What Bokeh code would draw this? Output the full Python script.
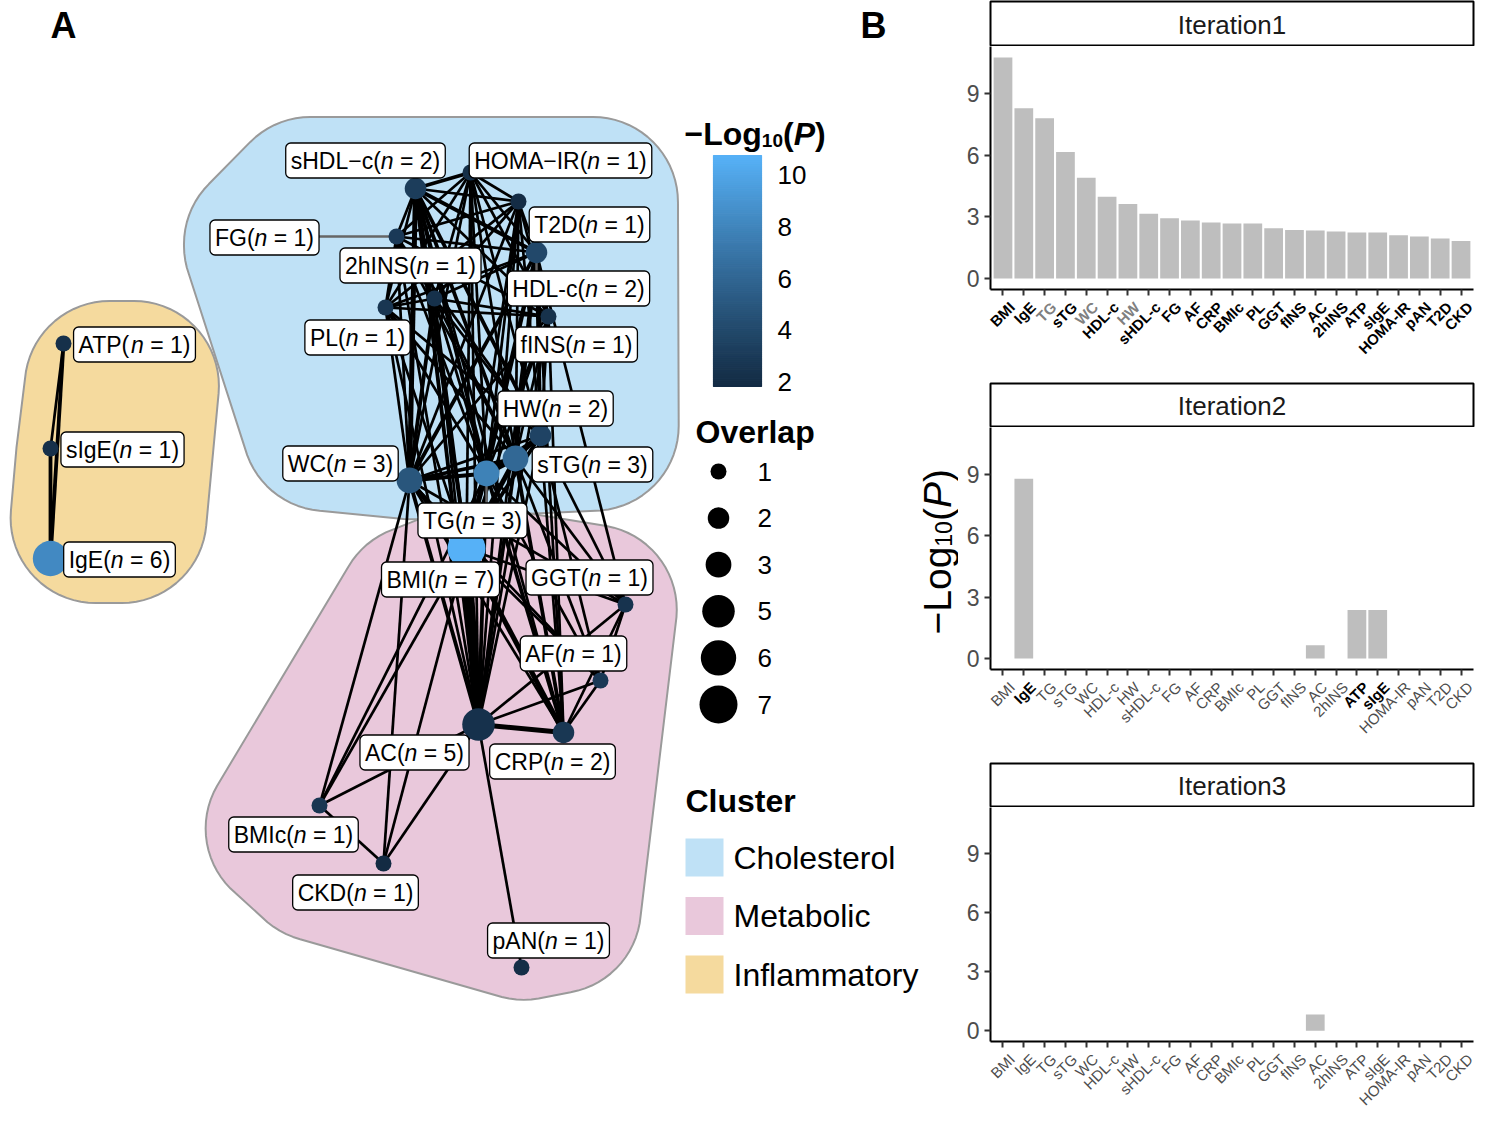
import math
from bokeh.plotting import figure
from bokeh.models import ColumnDataSource, Range1d, FixedTicker, LinearColorMapper
from bokeh.transform import transform
from bokeh.layouts import row, column
from bokeh.embed import file_html
from bokeh.resources import INLINE
from bokeh.core.properties import value

FONT = "Liberation Sans"

# ------------------------------------------------------------------ data
traits = ["BMI", "IgE", "TG", "sTG", "WC", "HDL-c", "HW", "sHDL-c", "FG", "AF", "CRP",
          "BMIc", "PL", "GGT", "fINS", "AC", "2hINS", "ATP", "sIgE", "HOMA-IR", "pAN",
          "T2D", "CKD"]
iter1 = [10.77, 8.30, 7.81, 6.17, 4.91, 3.98, 3.63, 3.16, 2.93, 2.83, 2.73,
         2.68, 2.68, 2.45, 2.36, 2.34, 2.29, 2.24, 2.24, 2.11, 2.05, 1.95, 1.83]
iter2 = [0, 8.80, 0, 0, 0, 0, 0, 0, 0, 0, 0,
         0, 0, 0, 0, 0.65, 0, 2.37, 2.37, 0, 0, 0, 0]
iter3 = [0, 0, 0, 0, 0, 0, 0, 0, 0, 0, 0,
         0, 0, 0, 0, 0.83, 0, 0, 0, 0, 0, 0, 0]
iter_titles = ["Iteration1", "Iteration2", "Iteration3"]
iter_bold = [traits, ["IgE", "ATP", "sIgE"], []]
iter_grey = [["TG", "WC", "HW"], [], []]
y_ticks = [0, 3, 6, 9]

node_names = ["HOMA-IR", "sHDL-c", "T2D", "FG", "HDL-c", "2hINS", "PL", "fINS", "HW", "sTG",
              "TG", "WC", "BMI", "GGT", "AF", "CRP", "AC", "BMIc", "CKD", "pAN",
              "ATP", "sIgE", "IgE"]
node_labels = ["HOMA\u2212IR", "sHDL\u2212c", "T2D", "FG", "HDL-c", "2hINS", "PL", "fINS", "HW", "sTG",
               "TG", "WC", "BMI", "GGT", "AF", "CRP", "AC", "BMIc", "CKD", "pAN",
               "ATP", "sIgE", "IgE"]
node_cluster = ["Cholesterol"] * 12 + ["Metabolic"] * 8 + ["Inflammatory"] * 3
node_n = [1, 2, 1, 1, 2, 1, 1, 1, 2, 3, 3, 3, 7, 1, 1, 2, 5, 1, 1, 1, 1, 1, 6]
node_x = [470, 415, 518, 396, 536, 434, 385, 548, 540, 515, 486, 409,
          466, 625, 600, 563, 478, 319, 383, 521, 63, 50, 50]
node_y = [172, 188, 201, 236, 252, 298, 307, 316, 435, 458, 473, 480,
          548, 604, 680, 732, 724, 805, 863, 967, 343, 448, 558]
label_x = [560, 365, 589, 264, 578, 410, 357, 576, 555, 592, 472, 340,
           440, 589, 573, 552, 414, 293, 355, 548, 134, 122, 119]
label_y = [160, 160, 224, 237, 288, 265, 337, 344, 408, 464, 520, 463,
           579, 577, 653, 761, 752, 834, 892, 940, 344, 449, 559]

edges = [
    ("HOMA-IR", "sHDL-c", 2), ("HOMA-IR", "T2D", 1), ("HOMA-IR", "FG", 1), ("HOMA-IR", "HDL-c", 1),
    ("HOMA-IR", "2hINS", 1), ("HOMA-IR", "PL", 1), ("HOMA-IR", "fINS", 1), ("HOMA-IR", "HW", 1),
    ("HOMA-IR", "sTG", 1), ("HOMA-IR", "TG", 1), ("HOMA-IR", "WC", 1),
    ("sHDL-c", "T2D", 1), ("sHDL-c", "FG", 1), ("sHDL-c", "HDL-c", 2), ("sHDL-c", "2hINS", 1),
    ("sHDL-c", "PL", 1), ("sHDL-c", "fINS", 1), ("sHDL-c", "HW", 2), ("sHDL-c", "sTG", 2),
    ("sHDL-c", "TG", 2), ("sHDL-c", "WC", 3),
    ("T2D", "FG", 1), ("T2D", "HDL-c", 1), ("T2D", "2hINS", 1), ("T2D", "PL", 1), ("T2D", "fINS", 1),
    ("T2D", "HW", 1), ("T2D", "sTG", 1), ("T2D", "TG", 1), ("T2D", "WC", 1),
    ("FG", "HDL-c", 1), ("FG", "2hINS", 1), ("FG", "PL", 1), ("FG", "fINS", 1), ("FG", "HW", 1),
    ("FG", "sTG", 1), ("FG", "TG", 1), ("FG", "WC", 1),
    ("HDL-c", "2hINS", 1), ("HDL-c", "PL", 1), ("HDL-c", "fINS", 1), ("HDL-c", "HW", 2),
    ("HDL-c", "sTG", 2), ("HDL-c", "TG", 2), ("HDL-c", "WC", 2),
    ("2hINS", "PL", 1), ("2hINS", "fINS", 1), ("2hINS", "HW", 1), ("2hINS", "sTG", 1),
    ("2hINS", "TG", 1), ("2hINS", "WC", 2),
    ("PL", "fINS", 1), ("PL", "HW", 1), ("PL", "sTG", 1), ("PL", "TG", 1), ("PL", "WC", 1),
    ("fINS", "HW", 1), ("fINS", "sTG", 1), ("fINS", "TG", 1), ("fINS", "WC", 1),
    ("HW", "sTG", 2), ("HW", "TG", 2), ("HW", "WC", 1),
    ("sTG", "TG", 3), ("sTG", "WC", 2), ("TG", "WC", 2),
    ("WC", "BMI", 3), ("WC", "AC", 2), ("WC", "CRP", 1), ("WC", "GGT", 1), ("WC", "AF", 1),
    ("WC", "BMIc", 1), ("WC", "CKD", 1),
    ("TG", "BMI", 2), ("TG", "AC", 2), ("TG", "CRP", 2), ("TG", "GGT", 1), ("TG", "AF", 1),
    ("TG", "BMIc", 1),
    ("sTG", "BMI", 3), ("sTG", "AC", 2), ("sTG", "CRP", 2), ("sTG", "GGT", 1), ("sTG", "AF", 1),
    ("HW", "BMI", 2), ("HW", "AC", 1), ("HW", "CRP", 1), ("HW", "GGT", 1), ("HW", "AF", 1),
    ("HDL-c", "BMI", 2), ("HDL-c", "AC", 1), ("HDL-c", "CRP", 1), ("HDL-c", "GGT", 1),
    ("sHDL-c", "BMI", 2), ("sHDL-c", "AC", 2), ("sHDL-c", "CRP", 1),
    ("fINS", "BMI", 1), ("fINS", "AC", 1), ("fINS", "CRP", 1),
    ("2hINS", "BMI", 1), ("2hINS", "AC", 1), ("PL", "BMI", 1), ("PL", "AC", 1),
    ("HOMA-IR", "BMI", 1), ("HOMA-IR", "AC", 1), ("T2D", "BMI", 1), ("T2D", "AC", 1),
    ("FG", "AC", 1),
    ("BMI", "AC", 5), ("BMI", "CRP", 3), ("BMI", "AF", 1), ("BMI", "GGT", 1), ("BMI", "BMIc", 1),
    ("BMI", "CKD", 1),
    ("AC", "CRP", 3), ("AC", "AF", 1), ("AC", "GGT", 1), ("AC", "BMIc", 1), ("AC", "CKD", 1),
    ("AC", "pAN", 1),
    ("CRP", "AF", 1), ("CRP", "GGT", 1), ("AF", "GGT", 1), ("BMIc", "CKD", 1),
    ("ATP", "sIgE", 1), ("ATP", "IgE", 2), ("sIgE", "IgE", 2),
]

clusters = ["Cholesterol", "Metabolic", "Inflammatory"]
cluster_colors = ["#BFE1F6", "#E9C8DB", "#F5DA9E"]
size_breaks = [1, 2, 3, 5, 6, 7]
cbar_breaks = [2, 4, 6, 8, 10]

# ------------------------------------------------------------------ helpers
HELV = {' ': 278, '(': 333, ')': 333, '-': 333, '\u2212': 584, '=': 584,
        'A': 667, 'B': 667, 'C': 722, 'D': 722, 'E': 667, 'F': 611, 'G': 778, 'H': 722,
        'I': 278, 'K': 667, 'L': 556, 'M': 833, 'N': 722, 'O': 778, 'P': 667, 'R': 722,
        'S': 667, 'T': 611, 'W': 944,
        'a': 556, 'c': 500, 'e': 556, 'f': 278, 'g': 556, 'h': 556, 'i': 222, 'l': 222,
        'm': 833, 'n': 556, 'o': 556, 'p': 556, 'r': 333, 's': 500, 't': 278, 'u': 556, 'y': 500}
for d in "0123456789":
    HELV[d] = 556
HELVB = dict(HELV)
HELVB.update({'L': 611, 'o': 611, 'g': 611})


def tw(s, size, table=HELV):
    return sum(table.get(c, 556) for c in s) * size / 1000.0


def hex2rgb(h):
    h = h.lstrip('#')
    return [int(h[i:i + 2], 16) / 255.0 for i in (0, 2, 4)]


def rgb2lab(rgb):
    lin = [c / 12.92 if c <= 0.04045 else ((c + 0.055) / 1.055) ** 2.4 for c in rgb]
    X = 0.4124564 * lin[0] + 0.3575761 * lin[1] + 0.1804375 * lin[2]
    Y = 0.2126729 * lin[0] + 0.7151522 * lin[1] + 0.0721750 * lin[2]
    Z = 0.0193339 * lin[0] + 0.1191920 * lin[1] + 0.9503041 * lin[2]
    def f(t):
        return t ** (1 / 3) if t > (6 / 29) ** 3 else t / (3 * (6 / 29) ** 2) + 4 / 29
    fx, fy, fz = f(X / 0.95047), f(Y / 1.0), f(Z / 1.08883)
    return [116 * fy - 16, 500 * (fx - fy), 200 * (fy - fz)]


def lab2hex(lab):
    L, a, b = lab
    fy = (L + 16) / 116
    fx = fy + a / 500
    fz = fy - b / 200
    def finv(t):
        return t ** 3 if t > 6 / 29 else 3 * (6 / 29) ** 2 * (t - 4 / 29)
    X, Y, Z = 0.95047 * finv(fx), finv(fy), 1.08883 * finv(fz)
    r = 3.2404542 * X - 1.5371385 * Y - 0.4985314 * Z
    g = -0.9692660 * X + 1.8760108 * Y + 0.0415560 * Z
    bb = 0.0556434 * X - 0.2040259 * Y + 1.0572252 * Z
    out = []
    for c in (r, g, bb):
        c = 12.92 * c if c <= 0.0031308 else 1.055 * c ** (1 / 2.4) - 0.055
        out.append(int(round(min(max(c, 0), 1) * 255)))
    return "#%02x%02x%02x" % tuple(out)


def lab_palette(c0, c1, n=256):
    l0, l1 = rgb2lab(hex2rgb(c0)), rgb2lab(hex2rgb(c1))
    return [lab2hex([l0[k] + (l1[k] - l0[k]) * i / (n - 1) for k in range(3)]) for i in range(n)]


def convex_hull(pts):
    pts = sorted(set(pts))
    if len(pts) < 3:
        return pts
    def cross(o, a, b):
        return (a[0] - o[0]) * (b[1] - o[1]) - (a[1] - o[1]) * (b[0] - o[0])
    lower, upper = [], []
    for p in pts:
        while len(lower) >= 2 and cross(lower[-2], lower[-1], p) <= 0:
            lower.pop()
        lower.append(p)
    for p in reversed(pts):
        while len(upper) >= 2 and cross(upper[-2], upper[-1], p) <= 0:
            upper.pop()
        upper.append(p)
    return lower[:-1] + upper[:-1]


def erode(poly, d):
    n = len(poly)
    cx = sum(p[0] for p in poly) / n
    cy = sum(p[1] for p in poly) / n
    res = list(poly)
    for i in range(n):
        p, q = poly[i], poly[(i + 1) % n]
        ex, ey = q[0] - p[0], q[1] - p[1]
        L = math.hypot(ex, ey)
        if L == 0:
            continue
        nx, ny = -ey / L, ex / L
        if (cx - p[0]) * nx + (cy - p[1]) * ny < 0:
            nx, ny = -nx, -ny
        c = p[0] * nx + p[1] * ny + d
        out = []
        m = len(res)
        for j in range(m):
            a, b = res[j], res[(j + 1) % m]
            va = a[0] * nx + a[1] * ny - c
            vb = b[0] * nx + b[1] * ny - c
            if va >= 0:
                out.append(a)
            if (va >= 0) != (vb >= 0):
                t = va / (va - vb)
                out.append((a[0] + t * (b[0] - a[0]), a[1] + t * (b[1] - a[1])))
        res = out
        if not res:
            return [(cx, cy)]
    return res


def blob(points, pad, R):
    core = convex_hull(points)
    inner = erode(core, R - pad)
    cloud = []
    for (x, y) in inner:
        for k in range(72):
            t = 2 * math.pi * k / 72
            cloud.append((x + R * math.cos(t), y + R * math.sin(t)))
    hull = convex_hull(cloud)
    return [p[0] for p in hull], [p[1] for p in hull]


def node_diam(n):
    return 16 + 22 * (math.sqrt(n) - 1) / (math.sqrt(max(size_breaks)) - 1)


# ------------------------------------------------------------------ colour scale
pmap = dict(zip(traits, iter1))
node_p = [pmap[n] for n in node_names]
vmin, vmax = min(iter1), max(iter1)
palette = lab_palette("#132B43", "#56B1F7", 256)
mapper = LinearColorMapper(palette=palette, low=vmin, high=vmax)

# ------------------------------------------------------------------ panel A
A_W, H_ALL = 958, 1112
pA = figure(width=A_W, height=H_ALL, x_range=Range1d(0, A_W), y_range=Range1d(H_ALL, 0),
            output_backend="svg", toolbar_location=None, title=None, min_border=0)
pA.axis.visible = False
pA.grid.visible = False
pA.outline_line_color = None

FS = 23
BOX_H = 35
PAD = 5
SP = tw(" ", FS)
prefix = [lab + "(" for lab in node_labels]
suffix = ["= %d)" % n for n in node_n]
widths = [tw(a, FS) + tw("n", FS) + SP + tw(b, FS) for a, b in zip(prefix, suffix)]
box_l = [cx - w / 2 - PAD for cx, w in zip(label_x, widths)]
box_r = [cx + w / 2 + PAD for cx, w in zip(label_x, widths)]
box_t = [cy - BOX_H / 2 for cy in label_y]
box_b = [cy + BOX_H / 2 for cy in label_y]
diams = [node_diam(n) for n in node_n]

# cluster hulls
for ci, cl in enumerate(clusters):
    ids = [i for i, c in enumerate(node_cluster) if c == cl]
    ymin = min(node_y[i] for i in ids) - 30
    ymax = max(node_y[i] for i in ids) + 30
    pts = []
    for i in ids:
        r = diams[i] / 2
        for k in range(12):
            t = 2 * math.pi * k / 12
            pts.append((node_x[i] + r * math.cos(t), node_y[i] + r * math.sin(t)))
        if ymin <= label_y[i] <= ymax:
            pts += [(box_l[i], box_t[i]), (box_r[i], box_t[i]), (box_l[i], box_b[i]), (box_r[i], box_b[i])]
    hx, hy = blob(pts, 26, 85)
    pA.patch(hx, hy, fill_color=cluster_colors[ci], line_color="#9a9a9a", line_width=2)

# edges
pos = {n: (x, y) for n, x, y in zip(node_names, node_x, node_y)}
ewidth = {1: 2.7, 2: 3.8, 3: 5.0, 5: 9.0}
esrc = ColumnDataSource(dict(
    x0=[pos[a][0] for a, b, w in edges], y0=[pos[a][1] for a, b, w in edges],
    x1=[pos[b][0] for a, b, w in edges], y1=[pos[b][1] for a, b, w in edges],
    lw=[ewidth[w] for a, b, w in edges]))
pA.segment(x0="x0", y0="y0", x1="x1", y1="y1", line_width="lw", line_color="black", source=esrc)

# leader segments from labels to far nodes
sx0, sy0, sx1, sy1 = [], [], [], []
for i in range(len(node_names)):
    qx = min(max(node_x[i], box_l[i]), box_r[i])
    qy = min(max(node_y[i], box_t[i]), box_b[i])
    if math.hypot(qx - node_x[i], qy - node_y[i]) > 17:
        sx0.append(node_x[i]); sy0.append(node_y[i]); sx1.append(qx); sy1.append(qy)
pA.segment(x0=sx0, y0=sy0, x1=sx1, y1=sy1, line_color="#666666", line_width=2.4)

# nodes
nsrc = ColumnDataSource(dict(x=node_x, y=node_y, p=node_p, d=diams))
pA.scatter(x="x", y="y", size="d", fill_color=transform("p", mapper), line_color=None, source=nsrc)

# node labels
pA.quad(left=box_l, right=box_r, top=box_t, bottom=box_b, fill_color="white",
        line_color="black", line_width=1.3, border_radius=5)
x_pre = [cx - w / 2 for cx, w in zip(label_x, widths)]
x_n = [x + tw(a, FS) for x, a in zip(x_pre, prefix)]
x_suf = [x + tw("n", FS) + SP for x in x_n]
common = dict(text_font=value(FONT), text_font_size="%dpx" % FS, text_color="black",
              text_baseline="middle", text_align="left")
pA.text(x=x_pre, y=label_y, text=prefix, **common)
pA.text(x=x_n, y=label_y, text=["n"] * len(x_n), text_font_style="italic", **common)
pA.text(x=x_suf, y=label_y, text=suffix, **common)

# panel letters
pA.text(x=[63, 873], y=[25, 25], text=["A", "B"], text_font=value(FONT), text_font_size="36px",
        text_font_style="bold", text_align="center", text_baseline="middle", text_color="black")

# colour legend title  -Log10(P)
tx = 684
for s, fs, st, dy in [("\u2212Log", 32, "bold", 0), ("10", 19, "bold", 7), ("(", 32, "bold", 0),
                      ("P", 32, "bold italic", 0), (")", 32, "bold", 0)]:
    pA.text(x=[tx], y=[133 + dy], text=[s], text_font=value(FONT), text_font_size="%dpx" % fs,
            text_font_style=st, text_baseline="alphabetic", text_align="left", text_color="black")
    tx += tw(s, fs, HELVB)

# colour bar
CB_L, CB_R, CB_T, CB_B = 713, 761, 155, 386
nsl = 120
vals = [vmin + (k + 0.5) * (vmax - vmin) / nsl for k in range(nsl)]
ybot = [CB_B - k * (CB_B - CB_T) / nsl for k in range(nsl)]
ytop = [CB_B - (k + 1) * (CB_B - CB_T) / nsl for k in range(nsl)]
csrc = ColumnDataSource(dict(v=vals, b=ybot, t=ytop))
pA.quad(left=CB_L, right=CB_R, top="t", bottom="b", fill_color=transform("v", mapper),
        line_color=transform("v", mapper), line_width=1.2, source=csrc)
cb_y = [CB_B - (v - vmin) / (vmax - vmin) * (CB_B - CB_T) for v in cbar_breaks]
pA.text(x=[777] * len(cbar_breaks), y=cb_y, text=[str(v) for v in cbar_breaks],
        text_font=value(FONT), text_font_size="26px", text_baseline="middle", text_align="left",
        text_color="black")

# size legend
pA.text(x=[695], y=[431], text=["Overlap"], text_font=value(FONT), text_font_size="32px",
        text_font_style="bold", text_baseline="middle", text_align="left", text_color="black")
sl_y = [471 + 46.6 * k for k in range(len(size_breaks))]
pA.scatter(x=[718] * len(size_breaks), y=sl_y, size=[node_diam(n) for n in size_breaks],
           fill_color="black", line_color=None)
pA.text(x=[757] * len(size_breaks), y=sl_y, text=[str(n) for n in size_breaks],
        text_font=value(FONT), text_font_size="26px", text_baseline="middle", text_align="left",
        text_color="black")

# cluster legend
pA.text(x=[685], y=[800], text=["Cluster"], text_font=value(FONT), text_font_size="32px",
        text_font_style="bold", text_baseline="middle", text_align="left", text_color="black")
ck_y = [857 + 58.5 * k for k in range(len(clusters))]
pA.quad(left=685, right=723, top=[y - 19 for y in ck_y], bottom=[y + 19 for y in ck_y],
        fill_color=cluster_colors, line_color=None)
pA.text(x=[733] * len(clusters), y=ck_y, text=clusters, text_font=value(FONT),
        text_font_size="32px", text_baseline="middle", text_align="left", text_color="black")

# y-axis title of panel B (rotated), sits at the panel boundary
ty = 634
for s, fs, st, dx in [("\u2212Log", 39, "normal", 0), ("10", 23, "normal", 6), ("(", 39, "normal", 0),
                      ("P", 39, "italic", 0), (")", 39, "normal", 0)]:
    pA.text(x=[937 + dx], y=[ty], text=[s], angle=math.pi / 2, text_font=value(FONT),
            text_font_size="%dpx" % fs, text_font_style=st, text_baseline="alphabetic",
            text_align="left", text_color="black")
    ty -= tw(s, fs, HELV)

# ------------------------------------------------------------------ panel B
B_W = 1475 - A_W
B_LEFT, B_RIGHT = 32, 2
AX_B = 8            # bottom border of each bar plot: x-axis ticks
X0, X1 = -0.6, len(traits) - 1 + 0.6
PPU = (B_W - B_LEFT - B_RIGHT) / (X1 - X0)
idx = list(range(len(traits)))


def strip_fig(title, h):
    s = figure(width=B_W, height=h, x_range=Range1d(0, 1), y_range=Range1d(0, 1),
               output_backend="svg", toolbar_location=None, title=None,
               min_border_left=B_LEFT, min_border_right=B_RIGHT, min_border_top=1, min_border_bottom=0)
    s.axis.visible = False
    s.grid.visible = False
    s.outline_line_color = "black"
    s.outline_line_width = 2
    s.text(x=[0.5], y=[0.48], text=[title], text_font=value(FONT), text_font_size="26px",
           text_align="center", text_baseline="middle", text_color="#1a1a1a")
    return s


def bar_fig(vals, h):
    p = figure(width=B_W, height=h, x_range=Range1d(X0, X1), y_range=Range1d(-0.54, 11.31),
               output_backend="svg", toolbar_location=None, title=None,
               min_border_left=B_LEFT, min_border_right=B_RIGHT, min_border_top=0,
               min_border_bottom=AX_B)
    p.vbar(x=idx, top=vals, bottom=0, width=0.9, fill_color="#BEBEBE", line_color=None)
    p.grid.visible = False
    p.outline_line_color = None
    for ax in (p.xaxis[0], p.yaxis[0]):
        ax.axis_line_width = 2
        ax.axis_line_color = "black"
        ax.major_tick_line_color = "#333333"
        ax.major_tick_line_width = 2
        ax.major_tick_out = 6
        ax.major_tick_in = 0
        ax.minor_tick_line_color = None
    xa = p.xaxis[0]
    xa.ticker = FixedTicker(ticks=idx)
    xa.major_label_text_color = None       # tick labels are drawn (styled) underneath
    xa.major_label_text_font_size = "1px"
    xa.major_label_standoff = 0
    ya = p.yaxis[0]
    ya.ticker = FixedTicker(ticks=y_ticks)
    ya.major_label_text_font = FONT
    ya.major_label_text_font_size = "23px"
    ya.major_label_text_color = "#4d4d4d"
    ya.major_label_standoff = 5
    return p


def label_fig(bold, grey, h):
    # rotated, individually styled tick labels on the same horizontal scale as the bars
    q = figure(width=B_W, height=h, x_range=Range1d(X0 - B_LEFT / PPU, X1 + B_RIGHT / PPU),
               y_range=Range1d(h, 0), output_backend="svg", toolbar_location=None, title=None,
               min_border_left=0, min_border_right=0, min_border_top=0, min_border_bottom=0)
    try:
        q.frame_align = False
    except Exception:
        pass
    q.axis.visible = False
    q.grid.visible = False
    q.outline_line_color = None
    colors = [("#808080" if t in grey else ("black" if t in bold else "#4d4d4d")) for t in traits]
    styles = ["bold" if t in bold else "normal" for t in traits]
    src = ColumnDataSource(dict(x=idx, y=[1] * len(idx), text=traits, c=colors, s=styles))
    q.text(x="x", y="y", text="text", source=src, angle=math.pi / 4, x_offset=3,
           text_align="right", text_baseline="top", text_font=value(FONT),
           text_font_size="15px", text_color="c", text_font_style="s")
    return q


vals_all = [iter1, iter2, iter3]
strip_h = [46, 45, 45]
bar_h = [243 + AX_B, 242 + AX_B, 234 + AX_B]
lab_h = [85, 85, H_ALL - sum(strip_h) - (243 + 242 + 234 + 3 * AX_B) - 170]
col_items = []
for k in range(3):
    col_items.append(strip_fig(iter_titles[k], strip_h[k]))
    col_items.append(bar_fig(vals_all[k], bar_h[k]))
    col_items.append(label_fig(iter_bold[k], iter_grey[k], lab_h[k]))

layout = row(pA, column(*col_items, spacing=0), spacing=0)

open("out.html", "w").write(file_html(layout, INLINE))
